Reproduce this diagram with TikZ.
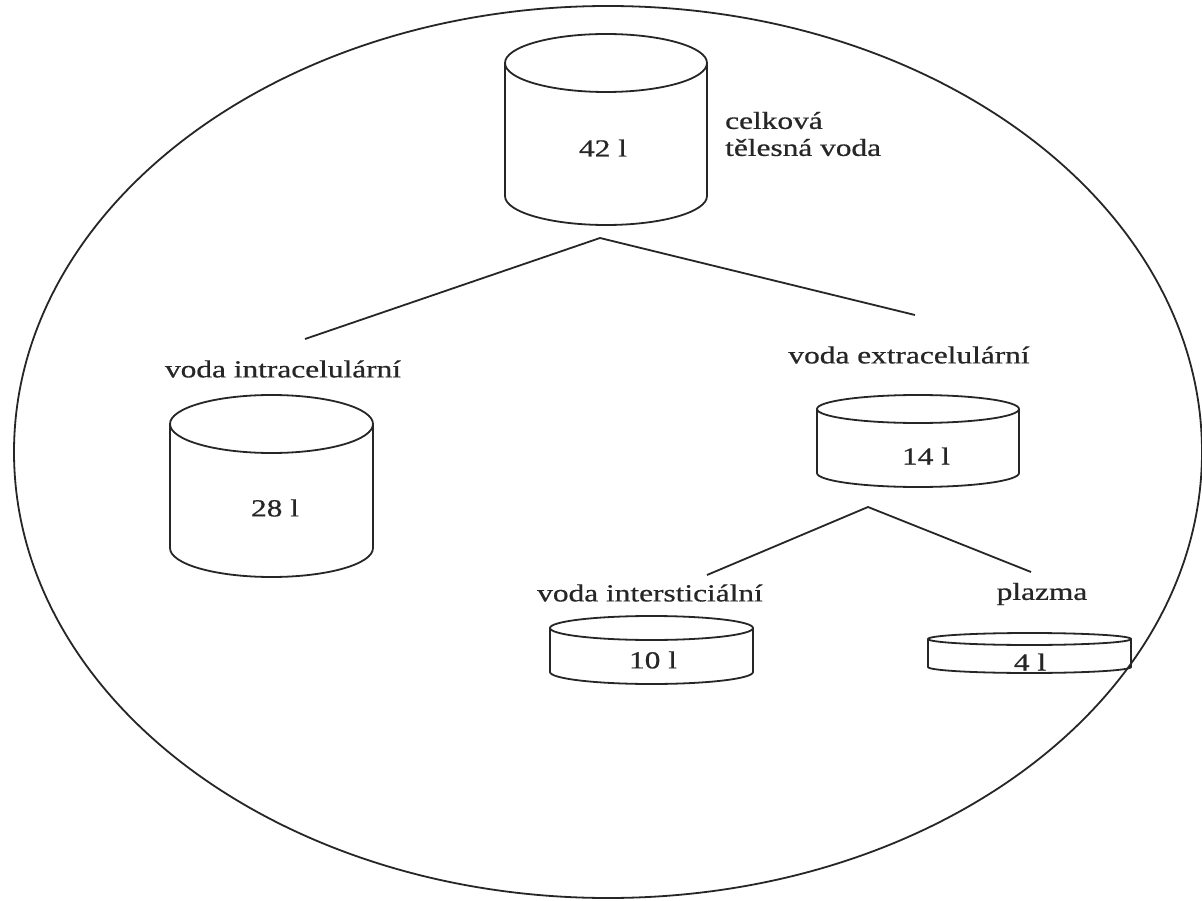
\documentclass[tikz,border=0pt]{standalone}
\usepackage{fontspec}
\usepackage{graphicx}
\setmainfont{Liberation Serif}
\newcommand\wtxt[1]{\scalebox{1.28}[1]{#1}}
\newcommand\drawcyl[5]{%
  \pgfmathsetmacro\cylcx{(#1+#2)/2}%
  \pgfmathsetmacro\cylrx{(#2-#1)/2}%
  \draw[ln] (\cylcx,-#3) ellipse[x radius=\cylrx, y radius=#5];
  \draw[ln] (#1,-#3) -- (#1,-#4) arc[start angle=180,end angle=360,x radius=\cylrx,y radius=#5] -- (#2,-#3);
}
\begin{document}
\begin{tikzpicture}[x=1pt,y=1pt,
  ln/.style={line width=1.8pt, draw=black!85},
  lbl/.style={font=\fontsize{24.5}{27}\selectfont\addfontfeature{FakeBold=0.6}, inner sep=0pt, text=black!85}]
\useasboundingbox (0,0) rectangle (1202,-901);
\fill[white] (0,0) rectangle (1202,-901);
% outer ellipse
\draw[ln] (608,-452) ellipse[x radius=594, y radius=446];
% cylinders
\drawcyl{505}{707}{63}{196}{29}
\drawcyl{170}{373}{424}{548}{29}
\drawcyl{817}{1019}{409}{473}{14}
\drawcyl{550}{753}{628}{672}{12}
\drawcyl{928}{1131}{639}{667}{6}
% texts
\node[lbl] (v42) at (603,-148) {\wtxt{42 l}};
\node[lbl, anchor=west, align=left] (celk) at (725,-134) {\wtxt{celková}\\\wtxt{tělesná voda}};
\node[lbl] (intra) at (283,-369) {\wtxt{voda intracelulární}};
\node[lbl] (v28) at (275,-508) {\wtxt{28 l}};
\node[lbl] (extra) at (909,-355) {\wtxt{voda extracelulární}};
\node[lbl] (v14) at (926,-456) {\wtxt{14 l}};
\node[lbl] (inter) at (650,-593) {\wtxt{voda intersticiální}};
\node[lbl] (plaz) at (1042,-594) {\wtxt{plazma}};
\node[lbl] (v10) at (653,-660) {\wtxt{10 l}};
\node[lbl] (v4) at (1030,-662) {\wtxt{4 l}};
% connectors
\coordinate (apexA) at (600,-238);
\coordinate (endAL) at (305,-339);
\coordinate (endAR) at (915,-315);
\coordinate (apexB) at (868,-507);
\coordinate (endBL) at (707,-575);
\coordinate (endBR) at (1031,-572);
\draw[ln] (endAL) -- (apexA) -- (endAR);
\draw[ln] (endBL) -- (apexB) -- (endBR);
\end{tikzpicture}
\end{document}
